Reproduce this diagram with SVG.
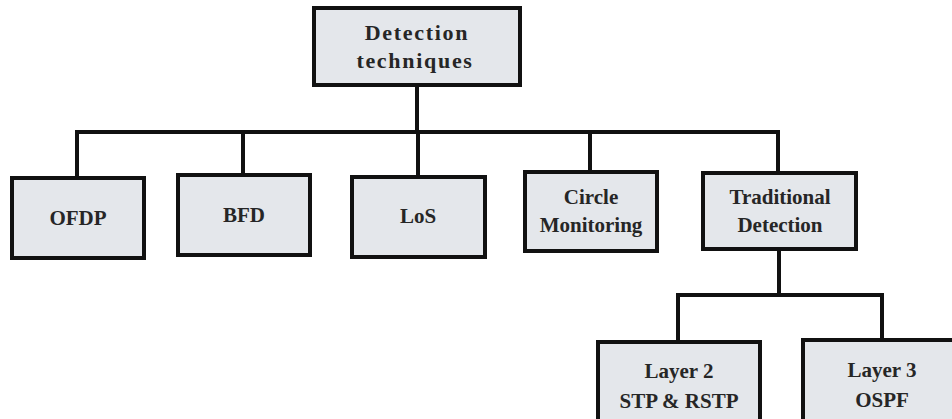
<svg xmlns="http://www.w3.org/2000/svg" width="952" height="419" viewBox="0 0 952 419">
  <style>
    .box { fill: #e4e7eb; stroke: #111; stroke-width: 4; }
    .lbl { font-family: "Liberation Serif", "Times New Roman", serif; font-weight: bold; font-size: 21px; fill: #262626; text-anchor: middle; }
    .root { font-size: 22px; letter-spacing: 1.7px; }
    .wire { fill: none; stroke: #111; stroke-width: 4; stroke-linecap: square; }
  </style>
  <rect width="952" height="419" fill="#ffffff"/>

  <!-- tree connectors -->
  <g id="connectors">
    <path class="wire" d="M417 85 V132"/>
    <path class="wire" d="M77 132 H778"/>
    <path class="wire" d="M77 132 V178"/>
    <path class="wire" d="M243 132 V175"/>
    <path class="wire" d="M418 132 V177"/>
    <path class="wire" d="M590 132 V172"/>
    <path class="wire" d="M778 132 V173"/>
    <path class="wire" d="M779 249 V295"/>
    <path class="wire" d="M678 295 H882"/>
    <path class="wire" d="M678 295 V342"/>
    <path class="wire" d="M882 295 V340"/>
  </g>

  <g id="detection-techniques">
    <rect class="box" x="314" y="8" width="206" height="77"/>
    <text class="lbl root" x="417" y="40">Detection</text>
    <text class="lbl root" x="415" y="68">techniques</text>
  </g>

  <g id="ofdp">
    <rect class="box" x="12" y="178" width="132" height="80"/>
    <text class="lbl" x="78" y="225">OFDP</text>
  </g>

  <g id="bfd">
    <rect class="box" x="178" y="175" width="132" height="80"/>
    <text class="lbl" x="244" y="222">BFD</text>
  </g>

  <g id="los">
    <rect class="box" x="352" y="177" width="133" height="80"/>
    <text class="lbl" x="418" y="223">LoS</text>
  </g>

  <g id="circle-monitoring">
    <rect class="box" x="525" y="172" width="132" height="79"/>
    <text class="lbl" x="591" y="204">Circle</text>
    <text class="lbl" x="591" y="232">Monitoring</text>
  </g>

  <g id="traditional-detection">
    <rect class="box" x="703" y="173" width="153" height="76"/>
    <text class="lbl" x="780" y="204">Traditional</text>
    <text class="lbl" x="780" y="232">Detection</text>
  </g>

  <g id="layer2">
    <rect class="box" x="598" y="342" width="162" height="90"/>
    <text class="lbl" x="679" y="378">Layer 2</text>
    <text class="lbl" x="679" y="408">STP &amp; RSTP</text>
  </g>

  <g id="layer3">
    <rect class="box" x="803" y="340" width="160" height="92"/>
    <text class="lbl" x="882" y="377">Layer 3</text>
    <text class="lbl" x="882" y="407">OSPF</text>
  </g>
</svg>
